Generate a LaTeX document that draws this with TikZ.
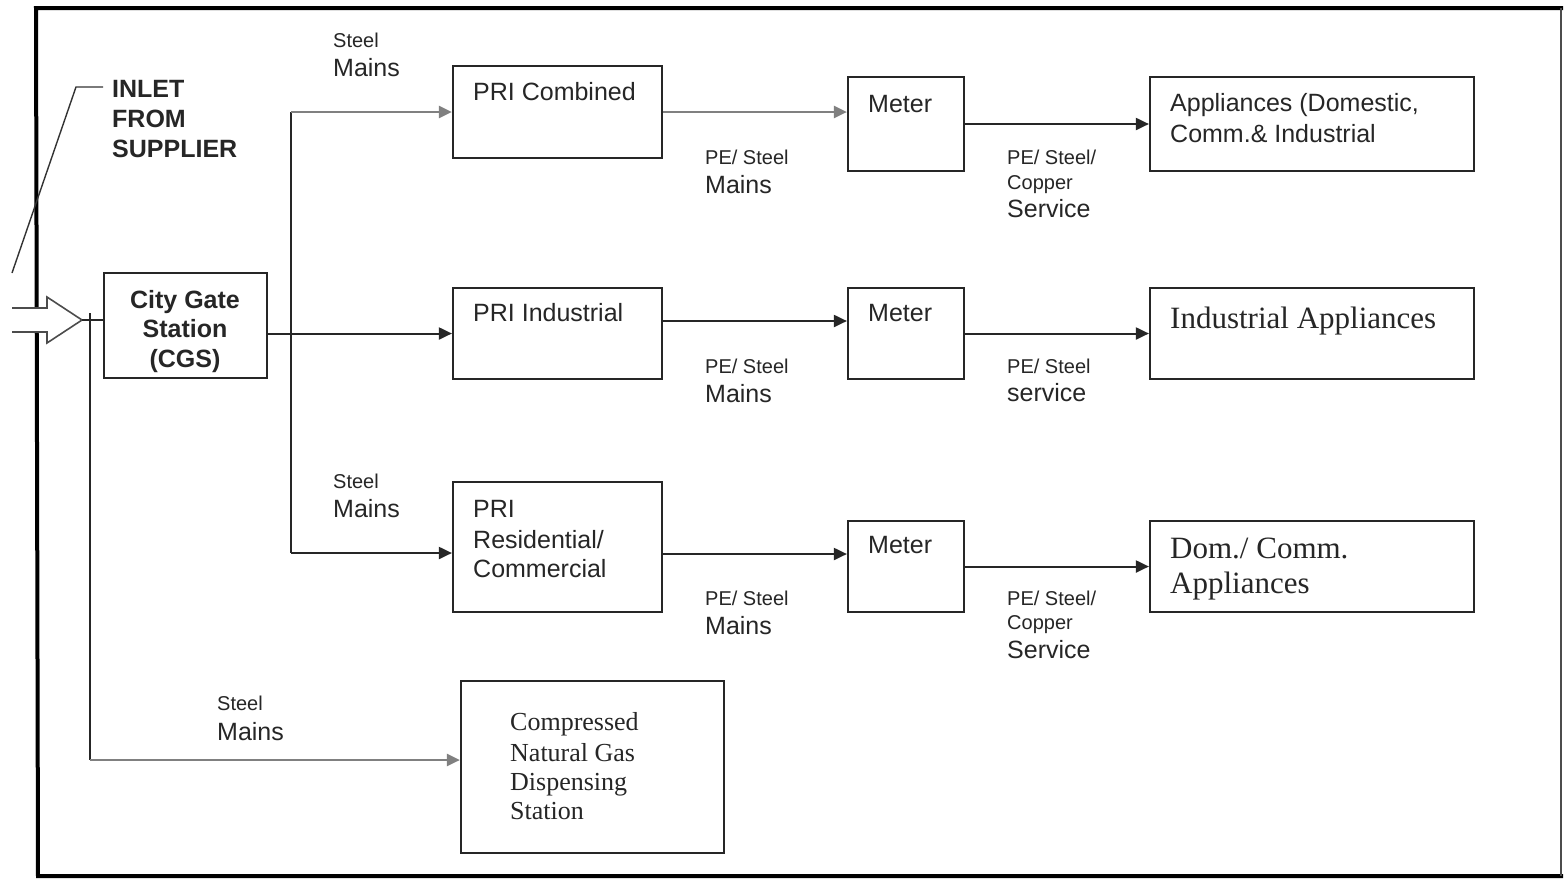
\documentclass[tikz,border=0pt]{standalone}
\usepackage{fontspec}
\setmainfont{Liberation Sans}
\newfontfamily\tnr{Liberation Serif}
\usetikzlibrary{arrows.meta}
\begin{document}
\begin{tikzpicture}[x=1pt,y=-1pt,
  box/.style={draw=black!85, line width=2.2pt, inner sep=0pt},
  conn/.style={draw=black!85, line width=2pt, -{Triangle[length=13pt,width=12pt]}},
  gconn/.style={draw=black!50, line width=2.4pt, -{Triangle[length=13pt,width=12pt]}},
  line/.style={draw=black!85, line width=2pt},
  tx/.style={anchor=base west, inner sep=0pt, text=black!85},
  big/.style={tx, font=\fontsize{25}{30}\selectfont},
  sml/.style={tx, font=\fontsize{20}{24}\selectfont},
  bld/.style={tx, font=\fontsize{25}{30}\selectfont\bfseries},
  tms/.style={tx, font=\tnr\fontsize{26}{31}\selectfont},
  tmsb/.style={tx, font=\tnr\fontsize{31}{36}\selectfont},
  ctr/.style={anchor=base, inner sep=0pt, text=black!85, font=\fontsize{25}{30}\selectfont\bfseries}
]
\useasboundingbox (0,0) rectangle (1564,879);
\fill[white] (0,0) rectangle (1564,879);

% frame
\draw[line width=4pt, black] (1563,8) -- (36,8) -- (38,876) -- (1563,876);
\draw[line width=2pt, black!70] (1561,8) -- (1561,876);

% inlet block arrow
\fill[white] (10,308) -- (47,308) -- (47,297) -- (82,320) -- (47,343) -- (47,332) -- (10,332) -- cycle;
\draw[black!70, line width=1.6pt] (12,308) -- (47,308) -- (47,297) -- (82,320) -- (47,343) -- (47,332) -- (12,332);
\coordinate (tip) at (82,320);
\coordinate (lead0) at (12,273);
\coordinate (lead1) at (76,87);
\coordinate (lead2) at (103,87);
\draw[black!80, line width=1.4pt] (lead0) -- (lead1) -- (lead2);
\node[bld] (in1) at (112,97) {INLET};
\node[bld] (in2) at (112,127) {FROM};
\node[bld] (in3) at (112,157) {SUPPLIER};

% boxes
\node[box, minimum width=163pt, minimum height=105pt] (cgs) at (185.5,325.5) {};
\node[box, minimum width=209pt, minimum height=92pt] (pc) at (557.5,112) {};
\node[box, minimum width=209pt, minimum height=91pt] (pi) at (557.5,333.5) {};
\node[box, minimum width=209pt, minimum height=130pt] (pr) at (557.5,547) {};
\node[box, minimum width=116pt, minimum height=94pt] (m1) at (906,124) {};
\node[box, minimum width=116pt, minimum height=91pt] (m2) at (906,333.5) {};
\node[box, minimum width=116pt, minimum height=91pt] (m3) at (906,566.5) {};
\node[box, minimum width=324pt, minimum height=94pt] (a1) at (1312,124) {};
\node[box, minimum width=324pt, minimum height=91pt] (a2) at (1312,333.5) {};
\node[box, minimum width=324pt, minimum height=91pt] (a3) at (1312,566.5) {};
\node[box, minimum width=263pt, minimum height=172pt] (cng) at (592.5,767) {};

% box texts
\node[ctr] (c1) at (185,308) {City Gate};
\node[ctr] (c2) at (185,337) {Station};
\node[ctr] (c3) at (185,367) {(CGS)};
\node[big] (tpc) at (473,100) {PRI Combined};
\node[big] (tpi) at (473,321) {PRI Industrial};
\node[big] (tpr1) at (473,517) {PRI};
\node[big] (tpr2) at (473,548) {Residential/};
\node[big] (tpr3) at (473,577) {Commercial};
\node[big] (tm1) at (868,112) {Meter};
\node[big] (tm2) at (868,321) {Meter};
\node[big] (tm3) at (868,553) {Meter};
\node[big] (ta1) at (1170,111) {Appliances (Domestic,};
\node[big] (ta2) at (1170,142) {Comm.\& Industrial};
\node[tmsb] (tia) at (1170,328) {Industrial Appliances};
\node[tmsb] (td1) at (1170,558) {Dom./ Comm.};
\node[tmsb] (td2) at (1170,593) {Appliances};
\node[tms] (tc1) at (510,730) {Compressed};
\node[tms] (tc2) at (510,761) {Natural Gas};
\node[tms] (tc3) at (510,790) {Dispensing};
\node[tms] (tc4) at (510,819) {Station};

% connectors
\draw[line] (tip) -- (tip -| cgs.west);
\coordinate (bt) at (90,313);
\coordinate (bb) at (90,760);
\draw[line] (bt) -- (bb);
\draw[gconn] (bb) -- (bb -| cng.west);
\coordinate (t1) at (291,112);
\coordinate (t3) at (291,553);
\draw[line] (cgs.east |- pi.west) -- (t1 |- pi.west);
\draw[line] (t1) -- (t3);
\draw[gconn] (t1) -- (pc.west);
\draw[conn] (t1 |- pi.west) -- (pi.west);
\draw[conn] (t3) -- (t3 -| pr.west);
\draw[gconn] (pc.east) -- (pc.east -| m1.west);
\draw[conn] ([yshift=12.5pt]pi.east) -- ([yshift=12.5pt]pi.east -| m2.west);
\draw[conn] ([yshift=-7pt]pr.east) -- ([yshift=-7pt]pr.east -| m3.west);
\draw[conn] (m1) -- (a1);
\draw[conn] (m2) -- (a2);
\draw[conn] (m3) -- (a3);

% connector labels
\node[sml] (s1a) at (333,47) {Steel};
\node[big] (s1b) at (333,76) {Mains};
\node[sml] (s3a) at (333,488) {Steel};
\node[big] (s3b) at (333,517) {Mains};
\node[sml] (s4a) at (217,710) {Steel};
\node[big] (s4b) at (217,740) {Mains};
\node[sml] (p1a) at (705,164) {PE/ Steel};
\node[big] (p1b) at (705,193) {Mains};
\node[sml] (p2a) at (705,373) {PE/ Steel};
\node[big] (p2b) at (705,402) {Mains};
\node[sml] (p3a) at (705,605) {PE/ Steel};
\node[big] (p3b) at (705,634) {Mains};
\node[sml] (q1a) at (1007,164) {PE/ Steel/};
\node[sml] (q1b) at (1007,189) {Copper};
\node[big] (q1c) at (1007,217) {Service};
\node[sml] (q2a) at (1007,373) {PE/ Steel};
\node[big] (q2b) at (1007,401) {service};
\node[sml] (q3a) at (1007,605) {PE/ Steel/};
\node[sml] (q3b) at (1007,629) {Copper};
\node[big] (q3c) at (1007,658) {Service};
\end{tikzpicture}
\end{document}
